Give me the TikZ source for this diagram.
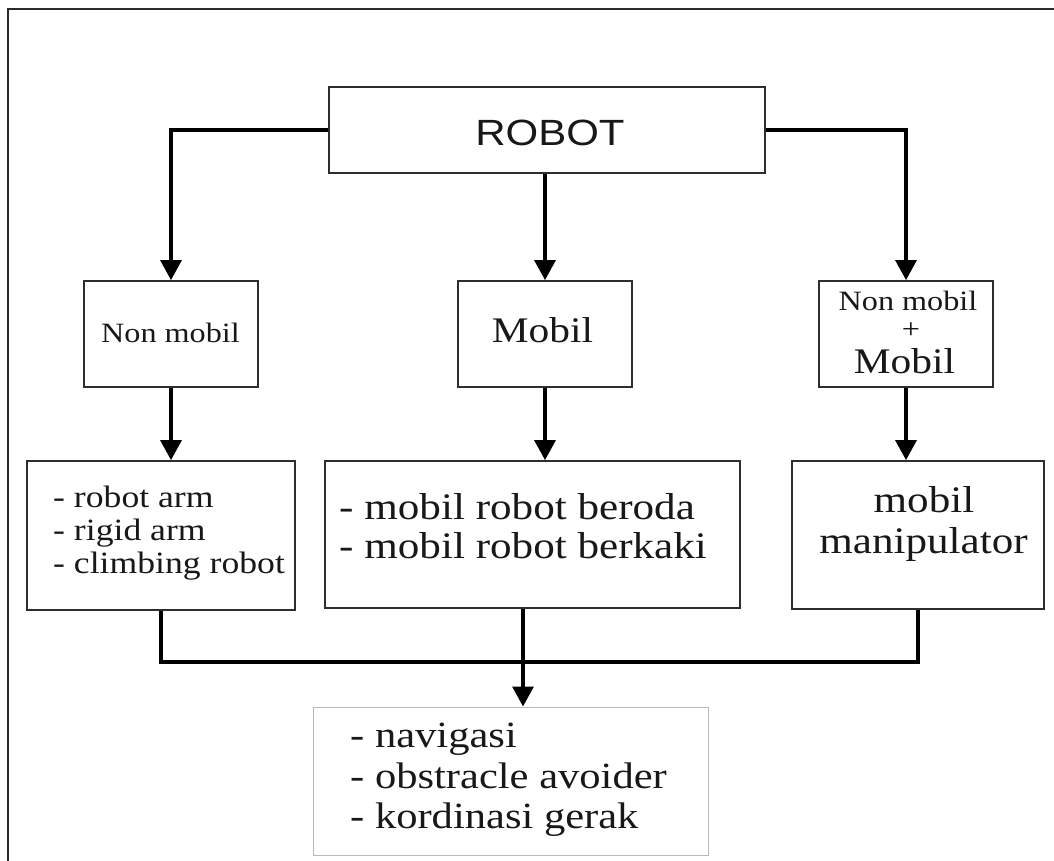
\documentclass[tikz,border=0pt]{standalone}
\usepackage{fontspec}
\setmainfont{Liberation Serif}[FakeStretch=1.15]
\newfontfamily\robfont{Liberation Sans}[FakeStretch=1.15]
\usetikzlibrary{arrows.meta}
\definecolor{ink}{HTML}{1A1817}
\definecolor{edgec}{HTML}{2E2E2E}
\definecolor{lightedge}{HTML}{B8B8B8}
\definecolor{framec}{HTML}{2A2A2A}
\newcommand\mysz[1]{\fontsize{#1}{#1}\selectfont}
\tikzset{
  boxnode/.style={draw=edgec, line width=1.8pt, inner sep=0pt, fill=white},
  lightbox/.style={draw=lightedge, line width=1pt, inner sep=0pt, fill=white},
  txt/.style={inner sep=0pt, text=ink, anchor=base},
  ltxt/.style={inner sep=0pt, text=ink, anchor=base west},
  plainline/.style={draw=black, line width=3.2pt},
  conn/.style={plainline, -{Triangle[width=21pt,length=20pt]}},
  framel/.style={draw=framec, line width=2pt}
}
\begin{document}
\begin{tikzpicture}[x=1pt,y=-1pt]
\useasboundingbox (0,0) rectangle (1054,861);
\fill[white] (0,0) rectangle (1054,861);
\begin{scope}
\clip (0,0) rectangle (1054,861);
\draw[framel] (8,900) -- (8,9) -- (1100,9);
\end{scope}

% boxes
\node[boxnode, minimum width=436pt, minimum height=86pt] (robot) at (547,130) {};
\node[boxnode, minimum width=174pt, minimum height=106pt] (nm) at (171,334) {};
\node[boxnode, minimum width=174pt, minimum height=106pt] (mob) at (545,334) {};
\node[boxnode, minimum width=174pt, minimum height=106pt] (nmm) at (906,334) {};
\node[boxnode, minimum width=268pt, minimum height=149pt] (lbox) at (161,535.5) {};
\node[boxnode, minimum width=415pt, minimum height=147pt] (mbox) at (532.5,534.5) {};
\node[boxnode, minimum width=252pt, minimum height=148pt] (rbox) at (918,535) {};
\node[lightbox, minimum width=395pt, minimum height=148pt] (bbox) at (510.5,781) {};

% connectors
\draw[conn] (robot.west) -| (nm.north);
\draw[conn] (robot.east) -| (nmm.north);
\draw[conn] (robot.south -| mob.north) -- (mob.north);
\draw[conn] (nm.south) -- (nm.south |- lbox.north);
\draw[conn] (mob.south) -- (mob.south |- mbox.north);
\draw[conn] (nmm.south) -- (nmm.south |- rbox.north);
\coordinate (jn) at (523,662);
\draw[plainline] (lbox.south) |- (jn) -| (rbox.south);
\draw[conn] (jn |- mbox.south) -- (jn |- bbox.north);

% texts
\node[txt, font=\robfont\mysz{36.5}] (t0) at (550,146) {ROBOT};
\node[txt, font=\mysz{28}] (t1) at (170.5,342) {Non mobil};
\node[txt, font=\mysz{36}] (t2) at (542.5,342) {Mobil};
\node[txt, font=\mysz{28}] (t3) at (908,310) {Non mobil};
\node[inner sep=0pt, text=ink, font=\mysz{28}] (t4) at (911,331) {+};
\node[txt, font=\mysz{36}] (t5) at (904.5,373) {Mobil};

\node[ltxt, font=\mysz{31}] (l1) at (53,507) {- robot arm};
\node[ltxt, font=\mysz{31}] (l2) at (53,540) {- rigid arm};
\node[ltxt, font=\mysz{31}] (l3) at (53,573) {- climbing robot};

\node[ltxt, font=\mysz{37.5}] (m1) at (339,519) {- mobil robot beroda};
\node[ltxt, font=\mysz{37.5}] (m2) at (339,558) {- mobil robot berkaki};

\node[txt, font=\mysz{37.5}] (r1) at (924,512) {mobil};
\node[txt, font=\mysz{37.5}] (r2) at (923.5,553) {manipulator};

\node[ltxt, font=\mysz{37}] (b1) at (350,747) {- navigasi};
\node[ltxt, font=\mysz{37}] (b2) at (350,788) {- obstracle avoider};
\node[ltxt, font=\mysz{37}] (b3) at (350,828) {- kordinasi gerak};
\end{tikzpicture}
\end{document}
